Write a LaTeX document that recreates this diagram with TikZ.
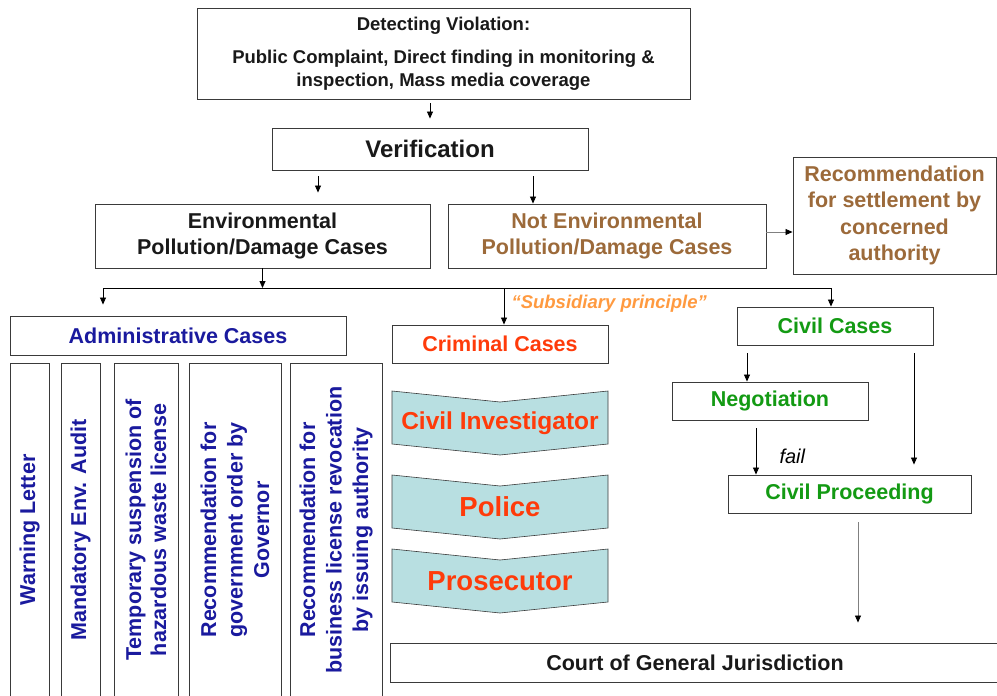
\documentclass[tikz,border=0pt]{standalone}
\usepackage{fontspec}
\setmainfont{Liberation Sans}
\definecolor{boxline}{HTML}{3A3A3A}
\definecolor{admblue}{HTML}{1A1A9E}
\definecolor{brownish}{HTML}{9C6A3A}
\definecolor{crimred}{HTML}{FF3B0A}
\definecolor{civgreen}{HTML}{139A13}
\definecolor{subsorange}{HTML}{FF9A40}
\definecolor{chevfill}{HTML}{B8DFE1}
\usetikzlibrary{arrows.meta,positioning,calc}

\tikzset{
  box/.style={draw=boxline, line width=0.9pt, fill=white, align=center, inner sep=0pt,
    text=black!90, font=\bfseries\fontsize{21.5}{26.5}\selectfont},
  vbox/.style={box, rotate=90, text=admblue, minimum width=334pt},
  link/.style={line width=0.8pt, -{Triangle[length=7pt,width=6pt]}},
  greylink/.style={draw=gray, line width=0.8pt, -{Triangle[length=7pt,width=6pt,black]}},
}

\begin{document}
\begin{tikzpicture}[x=1pt,y=-1pt]
  \useasboundingbox (0,0) rectangle (997,696);
  % detection and verification
  \node[box, minimum width=493pt, minimum height=91pt, font=\bfseries\fontsize{18.5}{23}\selectfont] (detect) at (443.5,53.5)
    {Detecting Violation:\\[10pt] Public Complaint, Direct finding in monitoring \&\\ inspection, Mass media coverage};
  \node[box, minimum width=316pt, minimum height=42pt, font=\bfseries\fontsize{24}{28}\selectfont] (verif) at (430,149) {Verification};
  % case types
  \node[box, minimum width=335pt, minimum height=64pt] (env) at (262.5,236) {Environmental\\Pollution/Damage Cases};
  \node[box, minimum width=318pt, minimum height=64pt, text=brownish] (notenv) at (607,236) {Not Environmental\\Pollution/Damage Cases};
  \node[box, minimum width=203pt, minimum height=117pt, text=brownish] (rec) at (894.5,215.5)
    {Recommendation\\for settlement by\\concerned\\authority};
  % administrative branch
  \node[box, minimum width=336pt, minimum height=39pt, text=admblue] (admin) at (178,335.5) {Administrative Cases};
  \node[vbox, minimum height=39pt] (warn) at (29.5,530) {Warning Letter};
  \node[vbox, minimum height=39pt] (audit) at (80.5,530) {Mandatory Env. Audit};
  \node[vbox, minimum height=64pt, font=\bfseries\fontsize{21.5}{25}\selectfont] (suspend) at (146,530) {Temporary suspension of\\hazardous waste license};
  \node[vbox, minimum height=92pt] (govorder) at (235,530) {Recommendation for\\government order by\\Governor};
  \node[vbox, minimum height=92pt] (revoke) at (336,530) {Recommendation for\\business license revocation\\by issuing authority};
  % criminal branch
  \node[box, minimum width=216pt, minimum height=38pt, text=crimred] (crim) at (500,344) {Criminal Cases};
  \foreach \y/\nm/\txt/\fs in {391/civinv/Civil Investigator/24.5, 475/police/Police/27.5, 549/prosec/Prosecutor/27.5}{
    \filldraw[fill=chevfill, draw=boxline, line width=0.6pt]
      (392,\y) -- (500,\y+11) -- (608,\y) -- (608,\y+53) -- (500,\y+64) -- (392,\y+53) -- cycle;
    \node[text=crimred, font=\bfseries\fontsize{\fs}{\fs}\selectfont] (\nm) at (500,\y+32) {\txt};
  }
  % civil branch
  \node[box, minimum width=196pt, minimum height=38pt, text=civgreen] (civil) at (835,326) {Civil Cases};
  \node[box, minimum width=196pt, minimum height=38pt, text=civgreen] (neg) at (770,401) {Negotiation};
  \node[box, minimum width=243pt, minimum height=38pt, text=civgreen] (proc) at (849.5,494) {Civil Proceeding};
  \node[box, minimum width=610pt, minimum height=39pt] (court) at (695,662.5) {Court of General Jurisdiction};
  % labels
  \node[font=\bfseries\itshape\fontsize{18.5}{20}\selectfont, text=subsorange, anchor=west] (subs) at (508,304) {``Subsidiary principle''};
  \node[font=\itshape\fontsize{20}{22}\selectfont, anchor=west] (fail) at (776,456) {fail};
  % connectors
  \coordinate (xenv) at (318,0);
  \coordinate (xnot) at (533,0);
  \coordinate (yrec) at (0,232);
  \coordinate (busL) at (103,288);
  \coordinate (busC) at (504,288);
  \coordinate (busR) at (831,288);
  \coordinate (xneg) at (747,0);
  \coordinate (xfail) at (756,0);
  \coordinate (xdir) at (914,0);
  \coordinate (xcourt) at (858,0);
  \draw[link, shorten <=4pt, shorten >=9pt] (detect.south -| verif.north) -- (verif.north);
  \draw[link, shorten <=6pt, shorten >=11pt] (verif.south -| xenv) -- (env.north -| xenv);
  \draw[link, shorten <=6pt] (verif.south -| xnot) -- (notenv.north -| xnot);
  \draw[greylink] (notenv.east |- yrec) -- (rec.west |- yrec);
  \draw[line width=0.8pt] (busL) -- (busR);
  \draw[link] (env.south) -- (env.south |- busL);
  \draw[link, shorten >=11pt] (busL) -- (busL |- admin.north);
  \draw[link] (busC) -- (busC |- crim.north);
  \draw[link] (busR) -- (busR |- civil.north);
  \draw[link, shorten <=8pt] (civil.south -| xneg) -- (neg.north -| xneg);
  \draw[link, shorten <=8pt] (neg.south -| xfail) -- (proc.north -| xfail);
  \draw[link, shorten <=8pt, shorten >=10pt] (civil.south -| xdir) -- (proc.north -| xdir);
  \draw[greylink, shorten <=9pt, shorten >=20pt] (proc.south -| xcourt) -- (court.north -| xcourt);
\end{tikzpicture}
\end{document}
